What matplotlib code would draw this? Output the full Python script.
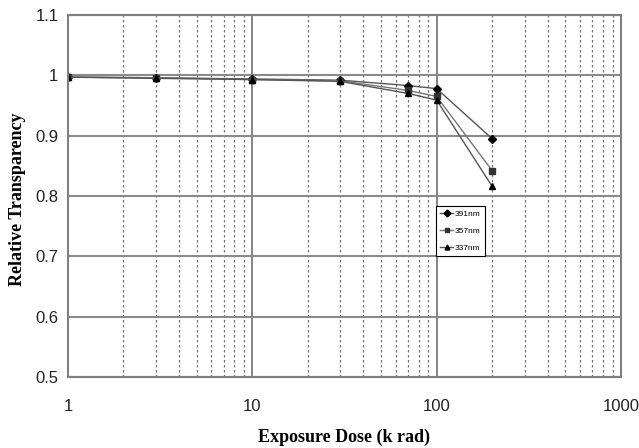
import matplotlib
matplotlib.use("Agg")
import matplotlib.pyplot as plt
from matplotlib.ticker import FixedLocator, LogLocator, NullFormatter

dose = [1, 3, 10, 30, 70, 100, 200]
t391 = [0.997, 0.996, 0.994, 0.992, 0.983, 0.978, 0.895]
t357 = [0.997, 0.996, 0.993, 0.991, 0.975, 0.965, 0.842]
t337 = [0.997, 0.995, 0.993, 0.990, 0.970, 0.959, 0.816]
labels = ["391nm", "357nm", "337nm"]
xticks = [1, 10, 100, 1000]
xticklabels = ["1", "10", "100", "1000"]
yticks = [0.5, 0.6, 0.7, 0.8, 0.9, 1.0, 1.1]
yticklabels = ["0.5", "0.6", "0.7", "0.8", "0.9", "1", "1.1"]

fig = plt.figure(figsize=(6.39, 4.48), dpi=100)
ax = fig.add_axes([0.1064, 0.1585, 0.8654, 0.808])
ax.set_xscale("log")
ax.set_xlim(1, 1000)
ax.set_ylim(0.5, 1.1)

ax.xaxis.set_major_locator(FixedLocator(xticks))
ax.xaxis.set_minor_locator(LogLocator(base=10, subs=range(2, 10)))
ax.xaxis.set_minor_formatter(NullFormatter())
ax.set_xticks(xticks)
ax.set_xticklabels(xticklabels)
ax.set_yticks(yticks)
ax.set_yticklabels(yticklabels)

ax.grid(True, which="major", axis="y", color="#8a8a8a", linewidth=1.5, linestyle="-")
ax.grid(True, which="major", axis="x", color="#707070", linewidth=1.2, linestyle="-")
ax.grid(True, which="minor", axis="x", color="#777777", linewidth=0.9, linestyle=(0, (2, 2)))
ax.set_axisbelow(True)

for sp in ax.spines.values():
    sp.set_color("#808080")
    sp.set_linewidth(1.5)

ax.tick_params(which="both", length=0)
ax.tick_params(axis="x", pad=16)
ax.tick_params(axis="y", pad=7)
for lab in ax.get_xticklabels() + ax.get_yticklabels():
    lab.set_fontfamily(["Liberation Sans", "DejaVu Sans"])
    lab.set_fontsize(12)
    lab.set_color("#222222")

ax.plot(dose, t391, color="#555555", linewidth=1.0, marker="D", markersize=4,
        markerfacecolor="black", markeredgecolor="black", label=labels[0])
ax.plot(dose, t357, color="#777777", linewidth=1.0, marker="s", markersize=4.5,
        markerfacecolor="#333333", markeredgecolor="#333333", label=labels[1])
ax.plot(dose, t337, color="#555555", linewidth=1.0, marker="^", markersize=5,
        markerfacecolor="black", markeredgecolor="black", label=labels[2])

leg = ax.legend(loc="upper left", bbox_to_anchor=(0.665, 0.472), frameon=True,
                fancybox=False, edgecolor="black", framealpha=1,
                prop={"family": ["Liberation Sans", "DejaVu Sans"], "size": 6},
                handlelength=1.6, borderpad=0.5, labelspacing=1.1, handletextpad=0.2,
                borderaxespad=0)
leg.get_frame().set_linewidth(0.8)
for h in leg.legend_handles:
    h.set_markersize(3.5)

ax.set_xlabel("Exposure Dose (k rad)", fontfamily="Liberation Serif", fontweight="bold",
              fontsize=13, va="center")
ax.xaxis.set_label_coords(0.5, -0.166)
ax.set_ylabel("Relative Transparency", fontfamily="Liberation Serif", fontweight="bold",
              fontsize=13, va="center")
ax.yaxis.set_label_coords(-0.092, 0.49)

fig.savefig("out.png", dpi=100)
